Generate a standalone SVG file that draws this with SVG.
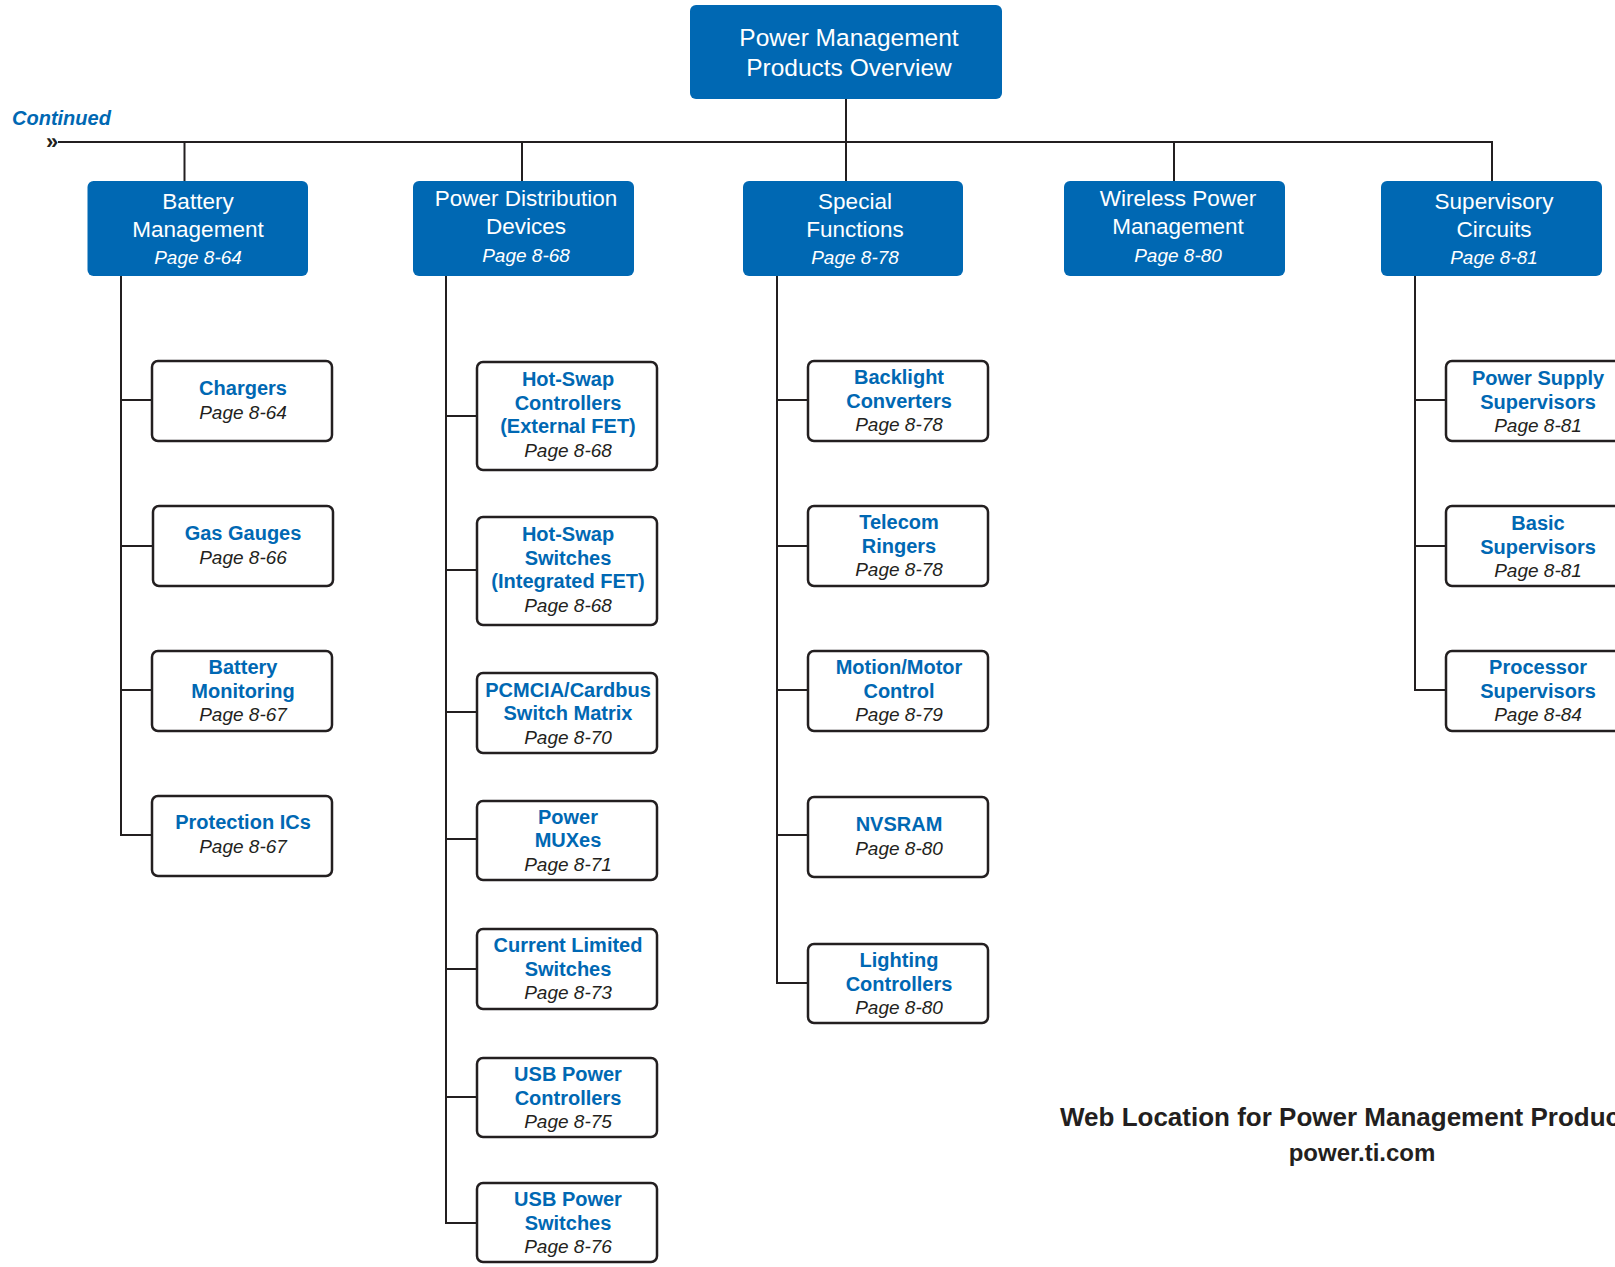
<svg xmlns="http://www.w3.org/2000/svg" width="1615" height="1267" viewBox="0 0 1615 1267">
<style>
.hdr{fill:#0068b3}
.box{fill:#ffffff;stroke:#231f20;stroke-width:2.5}
.ht{font-family:"Liberation Sans",Arial,sans-serif;font-size:22.5px;fill:#ffffff;text-anchor:middle}
.tt{font-family:"Liberation Sans",Arial,sans-serif;font-size:24.5px;fill:#ffffff;text-anchor:middle}
.hp{font-family:"Liberation Sans",Arial,sans-serif;font-size:19px;font-style:italic;fill:#ffffff;text-anchor:middle}
.ct{font-family:"Liberation Sans",Arial,sans-serif;font-size:20px;font-weight:bold;fill:#0068b3;text-anchor:middle}
.cp{font-family:"Liberation Sans",Arial,sans-serif;font-size:19px;font-style:italic;fill:#231f20;text-anchor:middle}
.ln{fill:none;stroke:#231f20;stroke-width:2}
.web{font-family:"Liberation Sans",Arial,sans-serif;font-weight:bold;fill:#231f20}
</style>
<rect width="1615" height="1267" fill="#ffffff"/>

<g id="connectors" class="ln">
<path d="M846 99 V181"/>
<path d="M58 142 H1492 V181"/>
<path d="M184.5 142 V181"/>
<path d="M522 142 V181"/>
<path d="M1174 142 V181"/>
<path d="M121 276 V835 H152"/>
<path d="M121 400 H152 M121 546 H152 M121 690 H152"/>
<path d="M446 276 V1223 H477"/>
<path d="M446 416 H477 M446 570 H477 M446 712 H477 M446 839 H477 M446 969 H477 M446 1097 H477"/>
<path d="M777 276 V983 H808"/>
<path d="M777 400 H808 M777 546 H808 M777 690 H808 M777 835 H808"/>
<path d="M1415 276 V690 H1446"/>
<path d="M1415 400 H1446 M1415 546 H1446"/>
</g>

<g id="continued">
<text x="12" y="125" font-family="Liberation Sans, Arial, sans-serif" font-size="20" font-weight="bold" font-style="italic" fill="#0068b3">Continued</text>
<text x="46" y="149" font-family="Liberation Sans, Arial, sans-serif" font-size="22" font-weight="bold" fill="#231f20">»</text>
</g>

<g id="root">
<rect class="hdr" x="690" y="5" width="312" height="94" rx="6"/>
<text class="tt" x="849" y="46">Power Management</text>
<text class="tt" x="849" y="76">Products Overview</text>
</g>

<g id="battery-management">
<rect class="hdr" x="87.5" y="181" width="220.5" height="95" rx="6"/>
<text class="ht" x="198" y="209">Battery</text>
<text class="ht" x="198" y="237">Management</text>
<text class="hp" x="198" y="264">Page 8-64</text>
</g>
<g id="power-distribution">
<rect class="hdr" x="413" y="181" width="221" height="95" rx="6"/>
<text class="ht" x="526" y="206">Power Distribution</text>
<text class="ht" x="526" y="234">Devices</text>
<text class="hp" x="526" y="262">Page 8-68</text>
</g>
<g id="special-functions">
<rect class="hdr" x="743" y="181" width="220" height="95" rx="6"/>
<text class="ht" x="855" y="209">Special</text>
<text class="ht" x="855" y="237">Functions</text>
<text class="hp" x="855" y="264">Page 8-78</text>
</g>
<g id="wireless-power">
<rect class="hdr" x="1064" y="181" width="221" height="95" rx="6"/>
<text class="ht" x="1178" y="206">Wireless Power</text>
<text class="ht" x="1178" y="234">Management</text>
<text class="hp" x="1178" y="262">Page 8-80</text>
</g>
<g id="supervisory-circuits">
<rect class="hdr" x="1381" y="181" width="221" height="95" rx="6"/>
<text class="ht" x="1494" y="209">Supervisory</text>
<text class="ht" x="1494" y="237">Circuits</text>
<text class="hp" x="1494" y="264">Page 8-81</text>
</g>

<!-- Battery children -->
<g id="chargers">
<rect class="box" x="152" y="361" width="180" height="80" rx="6"/>
<text class="ct" x="243" y="395">Chargers</text>
<text class="cp" x="243" y="419">Page 8-64</text>
</g>
<g id="gas-gauges">
<rect class="box" x="153" y="506" width="180" height="80" rx="6"/>
<text class="ct" x="243" y="540">Gas Gauges</text>
<text class="cp" x="243" y="564">Page 8-66</text>
</g>
<g id="battery-monitoring">
<rect class="box" x="152" y="651" width="180" height="80" rx="6"/>
<text class="ct" x="243" y="674">Battery</text>
<text class="ct" x="243" y="698">Monitoring</text>
<text class="cp" x="243" y="721">Page 8-67</text>
</g>
<g id="protection-ics">
<rect class="box" x="152" y="796" width="180" height="80" rx="6"/>
<text class="ct" x="243" y="829">Protection ICs</text>
<text class="cp" x="243" y="853">Page 8-67</text>
</g>

<!-- Power Distribution children -->
<g id="hot-swap-controllers">
<rect class="box" x="477" y="362" width="180" height="108" rx="6"/>
<text class="ct" x="568" y="386">Hot-Swap</text>
<text class="ct" x="568" y="410">Controllers</text>
<text class="ct" x="568" y="433">(External FET)</text>
<text class="cp" x="568" y="457">Page 8-68</text>
</g>
<g id="hot-swap-switches">
<rect class="box" x="477" y="517" width="180" height="108" rx="6"/>
<text class="ct" x="568" y="541">Hot-Swap</text>
<text class="ct" x="568" y="565">Switches</text>
<text class="ct" x="568" y="588">(Integrated FET)</text>
<text class="cp" x="568" y="612">Page 8-68</text>
</g>
<g id="pcmcia">
<rect class="box" x="477" y="673" width="180" height="80" rx="6"/>
<text class="ct" x="568" y="697">PCMCIA/Cardbus</text>
<text class="ct" x="568" y="720">Switch Matrix</text>
<text class="cp" x="568" y="744">Page 8-70</text>
</g>
<g id="power-muxes">
<rect class="box" x="477" y="801" width="180" height="79" rx="6"/>
<text class="ct" x="568" y="824">Power</text>
<text class="ct" x="568" y="847">MUXes</text>
<text class="cp" x="568" y="871">Page 8-71</text>
</g>
<g id="current-limited">
<rect class="box" x="477" y="929" width="180" height="80" rx="6"/>
<text class="ct" x="568" y="952">Current Limited</text>
<text class="ct" x="568" y="976">Switches</text>
<text class="cp" x="568" y="999">Page 8-73</text>
</g>
<g id="usb-power-controllers">
<rect class="box" x="477" y="1058" width="180" height="79" rx="6"/>
<text class="ct" x="568" y="1081">USB Power</text>
<text class="ct" x="568" y="1105">Controllers</text>
<text class="cp" x="568" y="1128">Page 8-75</text>
</g>
<g id="usb-power-switches">
<rect class="box" x="477" y="1183" width="180" height="79" rx="6"/>
<text class="ct" x="568" y="1206">USB Power</text>
<text class="ct" x="568" y="1230">Switches</text>
<text class="cp" x="568" y="1253">Page 8-76</text>
</g>

<!-- Special Functions children -->
<g id="backlight">
<rect class="box" x="808" y="361" width="180" height="80" rx="6"/>
<text class="ct" x="899" y="384">Backlight</text>
<text class="ct" x="899" y="408">Converters</text>
<text class="cp" x="899" y="431">Page 8-78</text>
</g>
<g id="telecom">
<rect class="box" x="808" y="506" width="180" height="80" rx="6"/>
<text class="ct" x="899" y="529">Telecom</text>
<text class="ct" x="899" y="553">Ringers</text>
<text class="cp" x="899" y="576">Page 8-78</text>
</g>
<g id="motion">
<rect class="box" x="808" y="651" width="180" height="80" rx="6"/>
<text class="ct" x="899" y="674">Motion/Motor</text>
<text class="ct" x="899" y="698">Control</text>
<text class="cp" x="899" y="721">Page 8-79</text>
</g>
<g id="nvsram">
<rect class="box" x="808" y="797" width="180" height="80" rx="6"/>
<text class="ct" x="899" y="831">NVSRAM</text>
<text class="cp" x="899" y="855">Page 8-80</text>
</g>
<g id="lighting">
<rect class="box" x="808" y="944" width="180" height="79" rx="6"/>
<text class="ct" x="899" y="967">Lighting</text>
<text class="ct" x="899" y="991">Controllers</text>
<text class="cp" x="899" y="1014">Page 8-80</text>
</g>

<!-- Supervisory children -->
<g id="power-supply-supervisors">
<rect class="box" x="1446" y="361" width="180" height="80" rx="6"/>
<text class="ct" x="1538" y="385">Power Supply</text>
<text class="ct" x="1538" y="409">Supervisors</text>
<text class="cp" x="1538" y="432">Page 8-81</text>
</g>
<g id="basic-supervisors">
<rect class="box" x="1446" y="506" width="180" height="80" rx="6"/>
<text class="ct" x="1538" y="530">Basic</text>
<text class="ct" x="1538" y="554">Supervisors</text>
<text class="cp" x="1538" y="577">Page 8-81</text>
</g>
<g id="processor-supervisors">
<rect class="box" x="1446" y="651" width="180" height="80" rx="6"/>
<text class="ct" x="1538" y="674">Processor</text>
<text class="ct" x="1538" y="698">Supervisors</text>
<text class="cp" x="1538" y="721">Page 8-84</text>
</g>

<g id="web-location">
<text class="web" x="1060" y="1126" font-size="26">Web Location for Power Management Products</text>
<text class="web" x="1362" y="1161" font-size="24" text-anchor="middle">power.ti.com</text>
</g>
</svg>
